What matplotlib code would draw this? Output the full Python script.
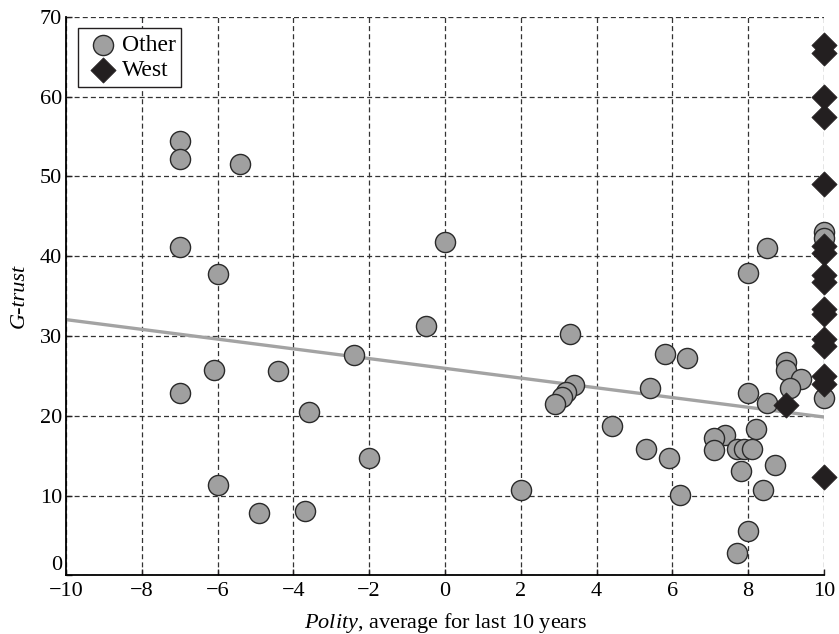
import matplotlib
matplotlib.use('Agg')
import matplotlib.pyplot as plt
import numpy as np

# --- data ---
other_x = [-7.0, -7.0, -5.4, -7.0, -6.0, 0.0, -0.5, -2.4, -6.1, -4.4, -7.0, -3.6,
           -6.0, -4.9, -3.7, -2.0, 2.0, 3.3, 3.4, 3.2, 3.1, 2.9,
           5.8, 6.4, 5.4, 4.4, 5.3, 5.9, 6.2,
           8.0, 8.5, 10.0, 10.0, 9.0, 9.0, 9.4, 9.1, 8.0, 8.5, 10.0,
           8.2, 7.4, 7.1, 7.1, 7.7, 7.9, 8.1, 8.7, 7.8, 8.4, 8.0, 7.7]
other_y = [54.4, 52.2, 51.6, 41.1, 37.8, 41.8, 31.2, 27.6, 25.8, 25.6, 22.8, 20.5,
           11.3, 7.8, 8.1, 14.7, 10.7, 30.3, 23.9, 23.0, 22.4, 21.5,
           27.8, 27.3, 23.5, 18.7, 15.8, 14.7, 10.1,
           37.9, 41.0, 43.0, 42.3, 26.8, 25.8, 24.6, 23.5, 22.9, 21.6, 22.2,
           18.4, 17.6, 17.2, 15.7, 15.9, 15.9, 15.8, 13.8, 13.1, 10.7, 5.6, 2.8]

west_x = [10, 10, 10, 10, 10, 10, 10, 10, 10, 10, 10, 10, 10, 10, 10, 10, 9.0]
west_y = [66.5, 65.4, 59.9, 57.4, 49.0, 41.3, 40.4, 37.6, 36.8, 33.4, 32.7,
          29.6, 28.8, 25.0, 24.0, 12.3, 21.3]

# fitted line
fit_slope = -0.61
fit_intercept = 25.95

x_ticks = [-10, -8, -6, -4, -2, 0, 2, 4, 6, 8, 10]
y_ticks = [0, 10, 20, 30, 40, 50, 60, 70]

plt.rcParams['font.family'] = ['Liberation Serif', 'DejaVu Serif']
plt.rcParams['mathtext.fontset'] = 'custom'
plt.rcParams['mathtext.rm'] = 'Liberation Serif'
plt.rcParams['mathtext.it'] = 'Liberation Serif:italic'

fig = plt.figure(figsize=(8.39, 6.34), dpi=100)
ax = fig.add_axes([0.0787, 0.0923, 0.9033, 0.8814])

fx = np.array([-10, 10])
ax.plot(fx, fit_intercept + fit_slope * fx, color='#a3a3a3', linewidth=2.4, zorder=2)

ax.scatter(other_x, other_y, s=210, marker='o', facecolor='#a0a0a0',
           edgecolor='#2a2a2a', linewidth=1.0, zorder=3, label='Other', clip_on=False)
ax.scatter(west_x, west_y, s=165, marker='D', facecolor='#231f20',
           edgecolor='#231f20', linewidth=0.5, zorder=4, label='West', clip_on=False)

ax.set_xlim(-10, 10)
ax.set_ylim(0, 70)
ax.set_xticks(x_ticks)
ax.set_yticks(y_ticks)
ax.set_xticklabels([str(t).replace('-', '\u2212') for t in x_ticks])
ax.tick_params(labelsize=16, direction='in', length=4, width=1, color='#231f20')
ax.tick_params(axis='x', pad=5)
ax.tick_params(axis='y', pad=3)
# the "0" sits a little above the corner, as in the reference
ax.get_yticklabels()[0].set_verticalalignment('bottom')

ax.grid(True, linestyle=(0, (4, 2.5)), color='#333333', linewidth=0.9)
ax.set_axisbelow(True)
ax.spines['top'].set_visible(False)
ax.spines['right'].set_visible(False)
ax.spines['left'].set_linewidth(1.3)
ax.spines['bottom'].set_linewidth(1.3)

ax.set_xlabel(r'$\mathit{Polity}$, average for last 10 years', fontsize=16, labelpad=7)
ax.set_ylabel('G-trust', fontsize=16, fontstyle='italic', labelpad=8)

leg = ax.legend(loc='upper left', fontsize=17, frameon=True, fancybox=False,
                edgecolor='#231f20', framealpha=1, handletextpad=0.0,
                borderpad=0.25, labelspacing=0.15, handlelength=1.6,
                borderaxespad=0.5)
leg.get_frame().set_linewidth(1.0)

plt.savefig('out.png', dpi=100)
plt.close()
